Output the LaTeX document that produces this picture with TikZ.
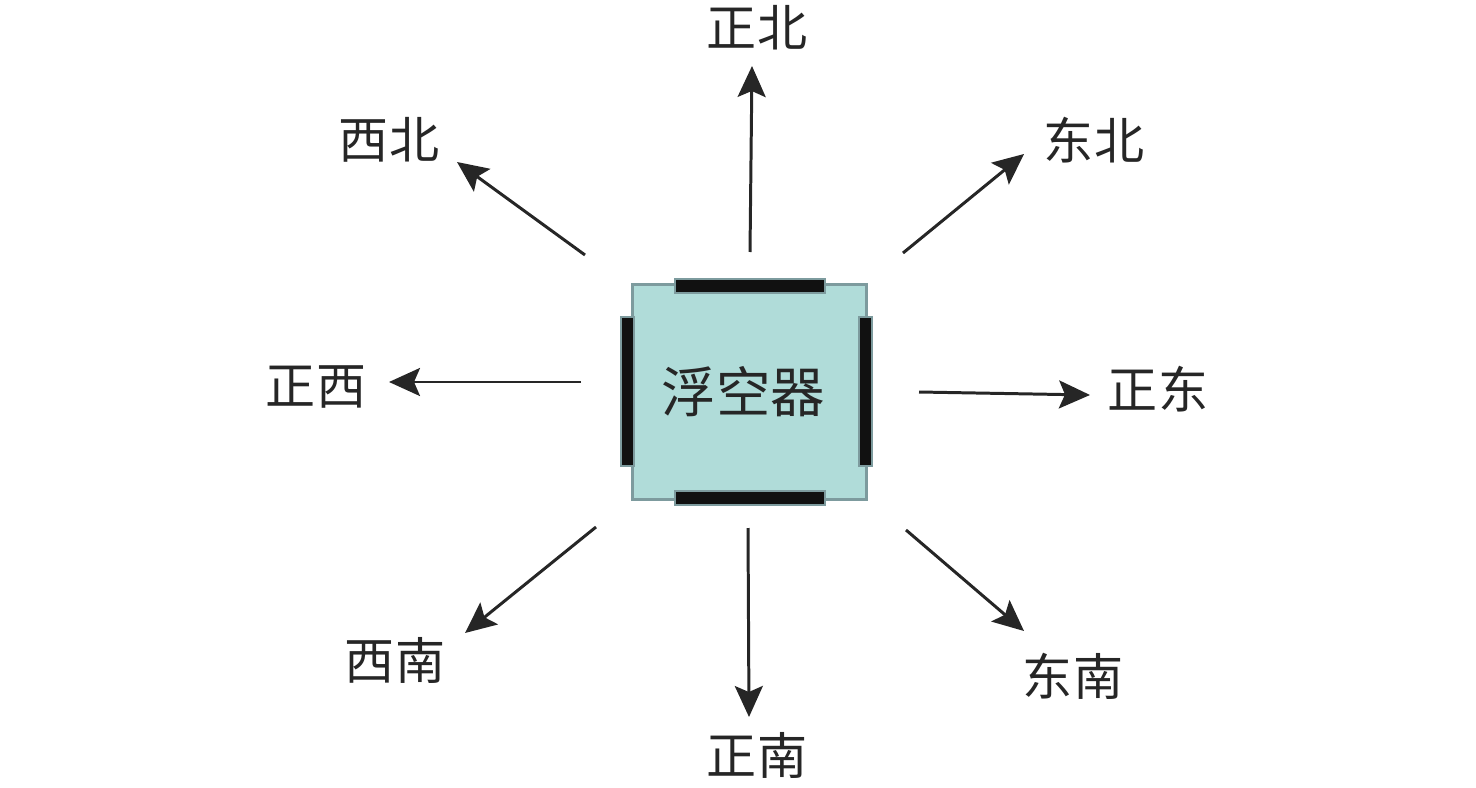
\documentclass[tikz,border=0pt]{standalone}
\usepackage{fontspec}
\newfontfamily\cjk{Noto Sans CJK SC}
\usetikzlibrary{arrows.meta}
\definecolor{boxfill}{HTML}{B0DCD9}
\definecolor{boxline}{HTML}{7D9B9E}
\definecolor{barfill}{HTML}{111111}

\begin{document}
\begin{tikzpicture}[x=0.02cm, y=-0.02cm, thick,
  dirarrow/.style={line width=1.7pt, draw=black!85, -{Stealth[length=0.62cm, width=0.56cm, inset=0.12cm]}},
  dirlabel/.style={font=\cjk\fontsize{28.5}{31}\selectfont, text=black!85, inner sep=0pt},
  bar/.style={fill=barfill, draw=boxline, line width=1.6pt}]

\useasboundingbox (0,0) rectangle (1476,787);

%box
\node [draw=boxline, fill=boxfill, line width=2pt, minimum width=4.68cm, minimum height=4.3cm,
       font=\cjk\fontsize{31}{34}\selectfont, text=black!85, text width=4.2cm, align=center] (fkq) at (749.5,392)
       {\hspace*{-0.25cm}浮空器};
\draw [bar] (675,279) rectangle (825,293);
\draw [bar] (675,491) rectangle (825,505);
\draw [bar] (621,317) rectangle (634,466);
\draw [bar] (859,317) rectangle (872,466);

%nodes
\node [dirlabel] (zb) at (757,28) {正北};
\node [dirlabel] (xb) at (389,140) {西北};
\node [dirlabel] (db) at (1094,140) {东北};
\node [dirlabel] (zx) at (316,387) {正西};
\node [dirlabel] (zd) at (1158,389) {正东};
\node [dirlabel] (xn) at (395,660) {西南};
\node [dirlabel] (dn) at (1073,676) {东南};
\node [dirlabel] (zn) at (757,755) {正南};

%lineas
\coordinate (zb0) at (750,252);  \coordinate (zb1) at (752,66);
\coordinate (db0) at (903,253);  \coordinate (db1) at (1024,154);
\coordinate (zd0) at (919,392);  \coordinate (zd1) at (1090,395);
\coordinate (dn0) at (906,530);  \coordinate (dn1) at (1024,631);
\coordinate (zn0) at (748,528);  \coordinate (zn1) at (749,717);
\coordinate (xn0) at (596,527);  \coordinate (xn1) at (465,633);
\coordinate (zx0) at (581,382);  \coordinate (zx1) at (389,382);
\coordinate (xb0) at (585,255);  \coordinate (xb1) at (457,162);

\foreach \d in {zb,db,zd,dn,zn,xn,zx,xb}
  \draw [dirarrow] (\d0) -- (\d1);

\end{tikzpicture}
\end{document}
